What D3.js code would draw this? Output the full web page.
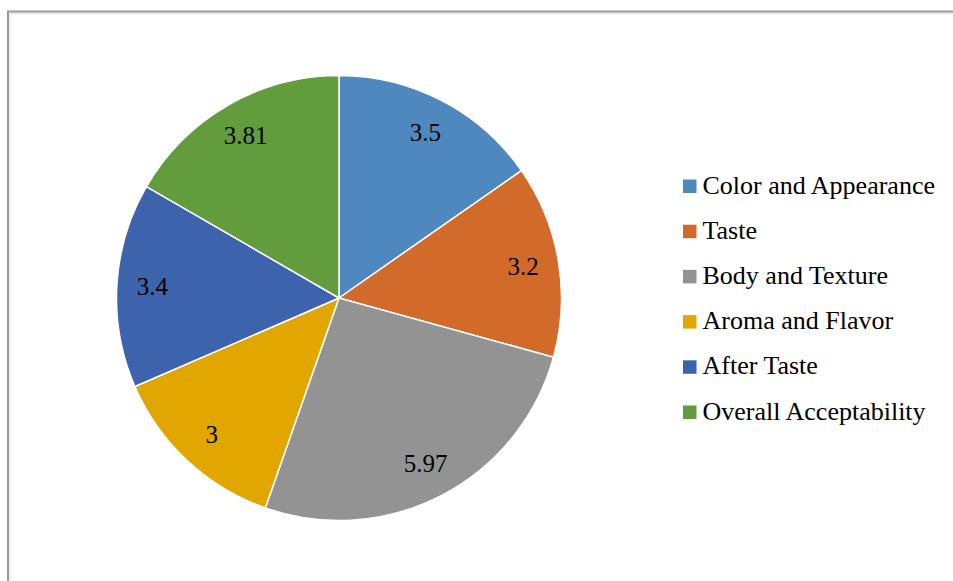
<!DOCTYPE html>
<html>
<head>
<meta charset="utf-8">
<script src="https://cdn.jsdelivr.net/npm/d3@7"></script>
<style>
  html, body { margin: 0; padding: 0; background: #fff; }
  svg { display: block; }
  .serif { font-family: "Times New Roman", Tinos, "Liberation Serif", "DejaVu Serif", serif; }
</style>
</head>
<body>
<svg id="chart" width="953" height="581"></svg>
<script>
// Sensory attribute scores
const categories = ["Color and Appearance", "Taste", "Body and Texture", "Aroma and Flavor", "After Taste", "Overall Acceptability"];
const values = [3.5, 3.2, 5.97, 3, 3.4, 3.81];
const labels = ["3.5", "3.2", "5.97", "3", "3.4", "3.81"];
const colors = ["#4f88bf", "#d26b2a", "#939393", "#e1a700", "#3d63ac", "#629c3d"];

const width = 953, height = 581;
const svg = d3.select("#chart");

// chart frame (runs off the right and bottom edges)
svg.append("rect")
  .attr("x", 8).attr("y", 11.5)
  .attr("width", width + 20).attr("height", height + 20)
  .attr("fill", "none")
  .attr("stroke", "#9a9a9a")
  .attr("stroke-width", 2);
svg.append("rect")
  .attr("x", 10).attr("y", 13.5)
  .attr("width", width + 20).attr("height", height + 20)
  .attr("fill", "none")
  .attr("stroke", "#e4e4e4")
  .attr("stroke-width", 1);

const cx = 339, cy = 298, R = 222.5;

const data = categories.map((c, i) => ({ name: c, value: values[i], label: labels[i], color: colors[i] }));

const pie = d3.pie().value(d => d.value).sort(null);
const arcs = pie(data);

const arc = d3.arc().innerRadius(0).outerRadius(R);
const labelArc = d3.arc().innerRadius(R * 0.84).outerRadius(R * 0.84);

const g = svg.append("g").attr("transform", `translate(${cx},${cy})`);

g.selectAll("path.slice")
  .data(arcs)
  .join("path")
  .attr("class", "slice")
  .attr("d", arc)
  .attr("fill", d => d.data.color)
  .attr("stroke", "#ffffff")
  .attr("stroke-width", 1.5)
  .attr("stroke-linejoin", "round");

g.selectAll("text.value")
  .data(arcs)
  .join("text")
  .attr("class", "value serif")
  .attr("transform", d => `translate(${labelArc.centroid(d)})`)
  .attr("text-anchor", "middle")
  .attr("dy", "0.33em")
  .attr("font-size", 25)
  .attr("fill", "#000")
  .text(d => d.data.label);

// legend
const legend = svg.append("g").attr("transform", "translate(683,186)");
const rowH = 45.2;
const item = legend.selectAll("g.item")
  .data(data)
  .join("g")
  .attr("class", "item")
  .attr("transform", (d, i) => `translate(0,${i * rowH})`);

item.append("rect")
  .attr("x", 0).attr("y", -6.5)
  .attr("width", 13.5).attr("height", 13.5)
  .attr("fill", d => d.color);

item.append("text")
  .attr("class", "serif")
  .attr("x", 19.5)
  .attr("y", 7.5)
  .attr("font-size", 26)
  .attr("fill", "#000")
  .text(d => d.name);
</script>
</body>
</html>
